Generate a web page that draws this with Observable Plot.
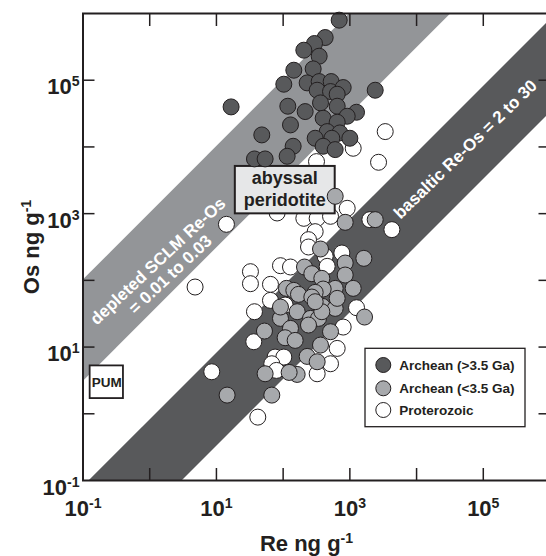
<!DOCTYPE html>
<html><head><meta charset="utf-8">
<script src="https://cdn.jsdelivr.net/npm/d3@7"></script>
<script src="https://cdn.jsdelivr.net/npm/@observablehq/plot@0.6"></script>
<style>
body{margin:0;background:#fff;}
#wrap{position:relative;width:546px;height:556px;overflow:hidden;font-family:"Liberation Sans",Arial,sans-serif;}
</style></head><body><div id="wrap"></div>
<script>
// ---- data (log10 of ng/g values) ----
const archeanOldLogRe = [2.84,2.63,2.47,2.31,2.54,2.16,2.45,2.01,2.36,2.54,2.72,2.51,2.71,2.90,2.81,3.38,1.22,2.07,2.33,2.56,2.81,3.10,2.96,2.60,2.11,2.81,1.68,2.66,2.85,2.48,3.00,2.73,2.15,2.60,2.78,1.57,1.73,2.06];
const archeanOldLogOs = [5.90,5.64,5.55,5.45,5.36,5.15,5.17,4.94,4.96,4.98,4.98,4.85,4.83,4.89,4.79,4.85,4.60,4.61,4.53,4.66,4.61,4.52,4.46,4.43,4.33,4.37,4.18,4.23,4.21,4.13,4.13,4.13,4.01,4.01,3.96,3.82,3.82,3.86];
const archeanYoungLogRe = [2.78,2.93,3.38,2.56,3.21,2.93,2.93,2.32,2.43,2.58,3.05,2.78,2.60,2.48,2.05,2.16,2.23,2.43,2.59,2.78,2.21,1.96,2.41,2.53,1.72,2.11,2.71,3.22,2.03,2.18,2.56,2.36,2.51,1.73,2.21,2.09,1.16,1.83,2.38,2.58,1.96,2.81,2.48];
const archeanYoungLogOs = [3.26,2.87,2.91,2.47,2.33,2.26,2.08,2.20,2.10,2.03,1.88,1.88,1.87,1.82,1.88,1.85,1.79,1.75,1.61,1.58,1.53,1.43,1.43,1.43,1.24,1.28,1.23,1.45,1.14,1.10,1.03,0.86,0.78,0.60,0.59,0.62,0.28,0.28,1.33,1.53,1.60,1.73,1.68];
const proterozoicLogRe = [1.15,0.68,0.93,1.62,3.43,3.53,3.05,2.50,3.63,3.30,2.96,1.91,2.31,2.51,2.71,2.48,2.38,2.38,2.63,2.88,1.96,2.11,1.51,1.51,1.81,1.81,1.57,3.10,1.56,1.88,2.01,2.71,2.51,2.81,2.90,2.66,2.03,1.83,1.90];
const proterozoicLogOs = [2.84,1.90,0.63,-0.05,3.77,4.23,3.98,3.78,2.76,2.91,3.08,3.01,2.93,2.93,2.96,2.73,2.61,2.50,2.36,2.41,2.22,2.20,2.13,1.95,1.94,1.70,1.53,1.59,1.08,0.85,0.85,0.75,0.60,0.98,1.30,2.21,1.63,0.75,0.65];

const seriesNames = ["Archean (>3.5 Ga)", "Archean (<3.5 Ga)", "Proterozoic"];
const seriesColors = ["#58595b", "#a7a9ac", "#ffffff"];

const xTickMarks = [1, 10, 100, 1e3, 1e4, 1e5];
const xTickLabels = [0.1, 10, 1e3, 1e5];
const yTickMarks = [1, 10, 100, 1e3, 1e4, 1e5];
const yTickLabels = [0.1, 10, 1e3, 1e5];

const bandX = [0.01, 1e7];
const sclmReOs = [0.001, 0.033];     // light band (Re/Os)
const basaltReOs = [1.25, 31];       // dark band (Re/Os)
const sclmLabel = "depleted SCLM Re-Os\n= 0.01 to 0.03";
const basaltLabel = "basaltic Re-Os = 2 to 30";
const abyssalLabel = "abyssal\nperidotite";
const pumLabel = "PUM";
const xTitle = "Re ng g^-1";
const yTitle = "Os ng g^-1";

// ---- build ----
const INK = "#231f20";
const FONT = "'Liberation Sans', Arial, sans-serif";
const pts = (lr, lo) => lr.map((r, i) => ({re: 10 ** r, os: 10 ** lo[i]}));
const oldPts = pts(archeanOldLogRe, archeanOldLogOs);
const youngPts = pts(archeanYoungLogRe, archeanYoungLogOs);
const protPts = pts(proterozoicLogRe, proterozoicLogOs);
const fmt = v => "10^" + Math.round(Math.log10(v));
const dotOpts = fill => ({x: "re", y: "os", r: 8, fill, stroke: INK, strokeWidth: 1});
const blank = () => "";

const plot = Plot.plot({
  width: 546, height: 556,
  marginLeft: 82.5, marginRight: -3.5, marginTop: 13, marginBottom: 76,
  x: {type: "log", domain: [0.1, 1e6]},
  y: {type: "log", domain: [0.1, 1e6]},
  style: {fontFamily: FONT, color: INK, background: "white", overflow: "hidden"},
  marks: [
    Plot.areaY(bandX, {x: d => d, y1: d => d / sclmReOs[1], y2: d => d / sclmReOs[0], fill: "#939598", clip: true}),
    Plot.areaY(bandX, {x: d => d, y1: d => d / basaltReOs[1], y2: d => d / basaltReOs[0], fill: "#58595b", clip: true}),
    Plot.text([sclmLabel], {text: d => d, x: 1.63, y: 155, rotate: -43, fill: "white", fontSize: 17, fontWeight: "bold", lineHeight: 1.08}),
    Plot.text([basaltLabel], {text: d => d, x: 54000, y: 9200, rotate: -44, fill: "white", fontSize: 17, fontWeight: "bold"}),
    Plot.dot(protPts, dotOpts(seriesColors[2])),
    Plot.rect([abyssalLabel], {x1: 19.2, x2: 603, y1: 993, y2: 5100, fill: "#e6e7e8", stroke: INK, strokeWidth: 2}),
    Plot.text([abyssalLabel], {text: d => d, x: 105.7, y: 2415, fill: INK, fontSize: 18, fontWeight: "bold", lineHeight: 1.2}),
    Plot.rect([pumLabel], {x1: 0.128, x2: 0.404, y1: 1.69, y2: 5.22, fill: "white", stroke: INK, strokeWidth: 1.8}),
    Plot.text([pumLabel], {text: d => d, x: 0.227, y: 2.89, fill: INK, fontSize: 13.5, fontWeight: "bold"}),
    Plot.dot(youngPts, dotOpts(seriesColors[1])),
    Plot.dot(oldPts, dotOpts(seriesColors[0])),
    Plot.frame({stroke: INK, strokeWidth: 2}),
    Plot.axisX(xTickMarks, {anchor: "bottom", tickSize: -12, tickFormat: blank, label: null, stroke: INK, strokeWidth: 1.5}),
    Plot.axisX(xTickMarks, {anchor: "top", tickSize: -12, tickFormat: blank, label: null, stroke: INK, strokeWidth: 1.5}),
    Plot.axisY(yTickMarks, {anchor: "left", tickSize: -12, tickFormat: blank, label: null, stroke: INK, strokeWidth: 1.5}),
    Plot.axisY(yTickMarks, {anchor: "right", tickSize: -12, tickFormat: blank, label: null, stroke: INK, strokeWidth: 1.5}),
    Plot.axisX(xTickLabels, {anchor: "bottom", tickSize: 0, tickPadding: 19.4, tickFormat: fmt, label: null, fontSize: 22, fontWeight: "bold", fill: INK}),
    Plot.axisY(yTickLabels, {anchor: "left", tickSize: 0, tickPadding: 3.5, tickFormat: fmt, label: null, fontSize: 22, fontWeight: "bold", fill: INK, dy: 7}),
    Plot.text([xTitle], {text: d => d, frameAnchor: "bottom", textAnchor: "middle", lineAnchor: "middle", dy: 63, dx: -10, fontSize: 22, fontWeight: "bold", fill: INK}),
    Plot.text([yTitle], {text: d => d, frameAnchor: "left", textAnchor: "middle", lineAnchor: "middle", dx: -51.5, rotate: -90, fontSize: 22, fontWeight: "bold", fill: INK})
  ]
});

const wrap = document.getElementById("wrap");
wrap.appendChild(plot);

// superscripts: "base^exp" -> base + raised tspan
plot.querySelectorAll("text").forEach(t => {
  if (t.children.length) return;
  const s = t.textContent, i = s.indexOf("^");
  if (i < 0) return;
  const fs = parseFloat(getComputedStyle(t).fontSize) || 22;
  t.textContent = s.slice(0, i);
  const ts = document.createElementNS("http://www.w3.org/2000/svg", "tspan");
  ts.setAttribute("dy", (-0.36 * fs).toFixed(2));
  ts.setAttribute("font-size", (0.64 * fs).toFixed(2));
  ts.textContent = s.slice(i + 1);
  t.appendChild(ts);
});

// legend (added over the plot)
const leg = d3.create("svg").attr("width", 164).attr("height", 84)
  .style("position", "absolute").style("left", "364px").style("top", "347px")
  .style("font-family", FONT);
leg.append("rect").attr("x", 1).attr("y", 1.3).attr("width", 160).attr("height", 78.4)
  .attr("fill", "white").attr("stroke", INK).attr("stroke-width", 1.3);
const rowY = [18, 41.3, 63];
seriesNames.forEach((name, i) => {
  leg.append("circle").attr("cx", 19.3).attr("cy", rowY[i]).attr("r", 7.5)
    .attr("fill", seriesColors[i]).attr("stroke", INK).attr("stroke-width", 1);
  leg.append("text").attr("x", 35.3).attr("y", rowY[i] + 4.8).attr("fill", INK)
    .attr("font-size", 13.5).attr("font-weight", "bold").text(name);
});
wrap.appendChild(leg.node());
</script></body></html>
